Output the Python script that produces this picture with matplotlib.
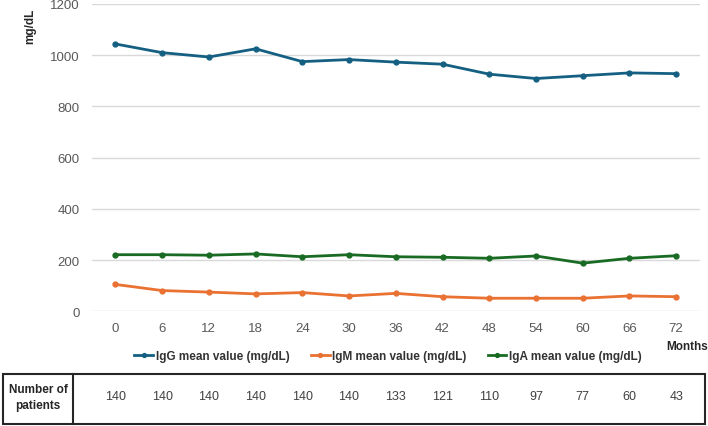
import matplotlib
matplotlib.use('Agg')
import matplotlib.pyplot as plt
import matplotlib.transforms as mtransforms
from matplotlib.patches import Rectangle

# follow-up months and the three immunoglobulin series (mg/dL)
months = [0, 6, 12, 18, 24, 30, 36, 42, 48, 54, 60, 66, 72]
igg = [1044, 1010, 993, 1025, 975, 983, 973, 965, 926, 909, 920, 931, 928]
igm = [105, 81, 75, 68, 73, 60, 70, 57, 51, 51, 51, 60, 57]
iga = [221, 221, 219, 224, 213, 221, 213, 211, 207, 216, 188, 207, 217]
patients = [140, 140, 140, 140, 140, 140, 133, 121, 110, 97, 77, 60, 43]

series = [
    ('IgG mean value (mg/dL)', igg, '#156082'),
    ('IgM mean value (mg/dL)', igm, '#E97132'),
    ('IgA mean value (mg/dL)', iga, '#196B24'),
]

plt.rcParams['font.family'] = ['Liberation Sans', 'DejaVu Sans']

fig = plt.figure(figsize=(7.08, 4.27), dpi=100)
ax = fig.add_axes([0.130, 1 - 312.3 / 427, 0.858, (312.3 - 5) / 427])

idx = list(range(len(months)))
for name, vals, col in series:
    ax.plot(idx, vals, color=col, lw=2, marker='o', ms=3.5, label=name)

ax.set_xlim(-0.5, len(months) - 0.5)
ax.set_ylim(0, 1200)
ax.set_yticks(range(0, 1201, 200))
ax.set_xticks(idx)
ax.set_xticklabels([str(m) for m in months])
ax.tick_params(length=0, labelsize=9.5, colors='#595959', pad=9)
ax.tick_params(axis='x', pad=8)
ax.grid(axis='y', color='#d9d9d9', lw=1)
ax.set_axisbelow(True)
for s in ax.spines.values():
    s.set_visible(False)

# axis captions
fig.text(30 / 708, 1 - 26 / 427, 'mg/dL', rotation=90, ha='center', va='center',
         fontsize=8.5, fontweight='bold', color='#262626')
fig.text(687 / 708, 1 - 347 / 427, 'Months', ha='center', va='center',
         fontsize=8.5, fontweight='bold', color='#262626')

leg = fig.legend(loc='center', bbox_to_anchor=(388 / 708, 1 - 357 / 427), ncol=3,
                 frameon=False, fontsize=8.5, handlelength=1.6, handletextpad=0.2,
                 columnspacing=1.8, markerscale=0.8, borderpad=0)
for t in leg.get_texts():
    t.set_fontweight('bold')
    t.set_color('#333333')

# patient count table under the chart
fig.patches.append(Rectangle((3 / 708, 1 - 425 / 427), 702 / 708, 50 / 427,
                             transform=fig.transFigure, fill=False,
                             edgecolor='#262626', lw=1.5))
fig.add_artist(plt.Line2D([73 / 708, 73 / 708], [1 - 425 / 427, 1 - 375 / 427],
                          transform=fig.transFigure, color='#262626', lw=1.5))
fig.text(38 / 708, 1 - 398 / 427, 'Number of\npatients', ha='center', va='center',
         fontsize=8.5, fontweight='bold', color='#262626', linespacing=1.5)

trans = mtransforms.blended_transform_factory(ax.transData, fig.transFigure)
for i, n in enumerate(patients):
    fig.text(i, 1 - 397 / 427, str(n), transform=trans, ha='center', va='center',
             fontsize=9, color='#404040')

plt.savefig('out.png', dpi=100)
